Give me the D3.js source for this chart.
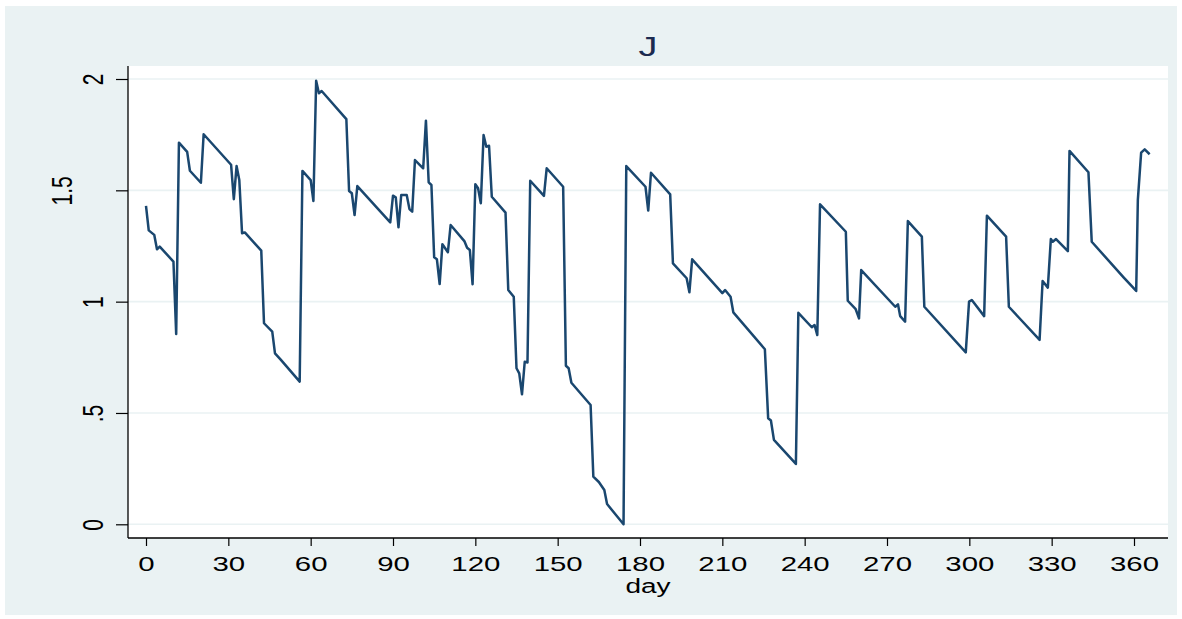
<!DOCTYPE html>
<html>
<head>
<meta charset="utf-8">
<script src="https://cdn.jsdelivr.net/npm/d3@7"></script>
<style>
  body { margin: 0; background: #ffffff; }
  text { font-family: "Liberation Sans", Arial, sans-serif; }
</style>
</head>
<body>
<div id="chart"></div>
<script>
// values (vertices of the line)
const days = [
  0, 1, 3, 4, 5, 10, 11, 12, 15, 16, 20, 21, 31, 32, 33, 34, 35, 36, 42, 43,
  46, 47, 49, 56, 57, 60, 61, 62, 63, 64, 73, 74, 75, 76, 77, 89, 90, 91, 92, 93,
  95, 96, 97, 98, 101, 102, 103, 104, 105, 106, 107, 108, 110, 111, 116, 117, 118, 119, 120, 121,
  122, 123, 124, 125, 126, 131, 132, 134, 135, 136, 137, 138, 139, 140, 145, 146, 152, 153, 154, 155,
  162, 163, 165, 167, 168, 174, 175, 182, 183, 184, 191, 192, 197, 198, 199, 210, 211, 213, 214, 225.5,
  226.7, 227.7, 228.8, 236.8, 237.7, 242.6, 243.6, 244.6, 245.6, 255, 255.7, 258.6, 259.8, 260.6, 273, 274,
  274.8, 276.6, 277.6, 282.7, 283.6, 298.7, 299.9, 300.9, 305.4, 306.4, 313.4, 314.4, 325.6, 326.7, 328.6,
  329.7, 330.4, 331.6, 335.9, 336.5, 343.4, 344.6, 356.2, 360.8, 361.4, 362.6, 363.9, 365.7
];
const jValues = [
  1.43, 1.32, 1.30, 1.235, 1.247, 1.18, 0.855, 1.714, 1.673, 1.588, 1.534, 1.752, 1.615, 1.46, 1.609, 1.546, 1.307, 1.311, 1.229, 0.903,
  0.865, 0.768, 0.741, 0.641, 1.587, 1.546, 1.452, 1.992, 1.936, 1.946, 1.82, 1.497, 1.487, 1.389, 1.519, 1.356, 1.476, 1.469, 1.334, 1.479,
  1.479, 1.416, 1.404, 1.636, 1.599, 1.813, 1.536, 1.524, 1.199, 1.19, 1.079, 1.258, 1.222, 1.344, 1.272, 1.242, 1.232, 1.078, 1.527, 1.509,
  1.442, 1.748, 1.696, 1.70, 1.471, 1.40, 1.052, 1.022, 0.701, 0.678, 0.584, 0.73, 0.727, 1.543, 1.475, 1.599, 1.516, 0.712, 0.701, 0.636,
  0.536, 0.214, 0.19, 0.154, 0.091, 0.0, 1.609, 1.516, 1.409, 1.579, 1.482, 1.172, 1.105, 1.042, 1.19, 1.038, 1.052, 1.022, 0.952, 0.786,
  0.476, 0.466, 0.379, 0.271, 0.95, 0.885, 0.895, 0.85, 1.437, 1.314, 1.004, 0.966, 0.925, 1.142, 0.977, 0.988,
  0.935, 0.91, 1.362, 1.292, 0.977, 0.772, 1.0, 1.007, 0.935, 1.386, 1.292, 0.977, 0.828, 1.093, 1.063,
  1.281, 1.269, 1.281, 1.227, 1.677, 1.581, 1.269, 1.109, 1.048, 1.457, 1.669, 1.684, 1.662
];
const xTickValues = [0, 30, 60, 90, 120, 150, 180, 210, 240, 270, 300, 330, 360];
const yTickValues = [0, 0.5, 1, 1.5, 2];
const yTickLabels = ["0", ".5", "1", "1.5", "2"];

function drawChart() {
  const width = 1182;
  const height = 619;
  const plot = { left: 128, right: 1168, top: 66, bottom: 538 };
  const stretch = 1.4; // text in the picture is wider than it is tall

  const svg = d3.select("#chart")
    .append("svg")
    .attr("width", width)
    .attr("height", height);

  // graph region + plot region
  svg.append("rect")
    .attr("x", 5).attr("y", 6)
    .attr("width", 1172).attr("height", 609)
    .attr("fill", "#eaf2f3");

  svg.append("rect")
    .attr("x", plot.left).attr("y", plot.top)
    .attr("width", plot.right - plot.left)
    .attr("height", plot.bottom - plot.top)
    .attr("fill", "#ffffff");

  const x = d3.scaleLinear()
    .domain([0, 360])
    .range([146, 1134]);

  const y = d3.scaleLinear()
    .domain([0, 2])
    .range([524.3, 79]);

  // gridlines
  svg.append("g")
    .selectAll("line")
    .data(yTickValues)
    .join("line")
    .attr("x1", plot.left).attr("x2", plot.right)
    .attr("y1", d => y(d)).attr("y2", d => y(d))
    .attr("stroke", "#eaf2f3")
    .attr("stroke-width", 1.6);

  // x axis
  const xAxis = svg.append("g")
    .attr("transform", `translate(0, ${plot.bottom})`)
    .call(d3.axisBottom(x).tickValues(xTickValues).tickSize(8).tickPadding(10).tickSizeOuter(0));

  xAxis.select(".domain").remove();
  xAxis.selectAll(".tick line").attr("stroke", "#000").attr("stroke-width", 1.2);
  xAxis.selectAll(".tick text")
    .attr("fill", "#000")
    .style("font-size", "21px")
    .attr("dy", "0.71em")
    .attr("transform", `scale(${stretch},1)`);

  svg.append("line")
    .attr("x1", plot.left).attr("x2", plot.right)
    .attr("y1", plot.bottom).attr("y2", plot.bottom)
    .attr("stroke", "#000").attr("stroke-width", 1.3);

  // y axis
  const yAxis = svg.append("g")
    .attr("transform", `translate(${plot.left}, 0)`)
    .call(d3.axisLeft(y).tickValues(yTickValues).tickSize(12).tickSizeOuter(0)
      .tickFormat((d, i) => yTickLabels[i]));

  yAxis.select(".domain").remove();
  yAxis.selectAll(".tick line").attr("stroke", "#000").attr("stroke-width", 1.2);
  yAxis.selectAll(".tick text")
    .attr("fill", "#000")
    .style("font-size", "21px")
    .attr("x", 0)
    .attr("dy", 0)
    .attr("text-anchor", "middle")
    .attr("transform", (d, i) => {
      const off = yTickLabels[i].length > 2 ? -56 : -25;
      return `translate(${off},0) scale(${stretch},1) rotate(-90)`;
    });

  svg.append("line")
    .attr("x1", plot.left).attr("x2", plot.left)
    .attr("y1", plot.top).attr("y2", plot.bottom)
    .attr("stroke", "#000").attr("stroke-width", 1.3);

  // the series
  const line = d3.line()
    .x((d, i) => x(days[i]))
    .y(d => y(d));

  svg.append("path")
    .datum(jValues)
    .attr("fill", "none")
    .attr("stroke", "#1a476f")
    .attr("stroke-width", 2.5)
    .attr("stroke-linejoin", "round")
    .attr("d", line);

  // title and axis title
  svg.append("text")
    .attr("transform", `translate(648, 56) scale(${stretch},1)`)
    .attr("text-anchor", "middle")
    .attr("fill", "#1c2b50")
    .style("font-size", "27px")
    .text("J");

  svg.append("text")
    .attr("transform", `translate(648, 593) scale(${stretch},1)`)
    .attr("text-anchor", "middle")
    .attr("fill", "#000")
    .style("font-size", "20px")
    .text("day");
}

drawChart();
</script>
</body>
</html>
